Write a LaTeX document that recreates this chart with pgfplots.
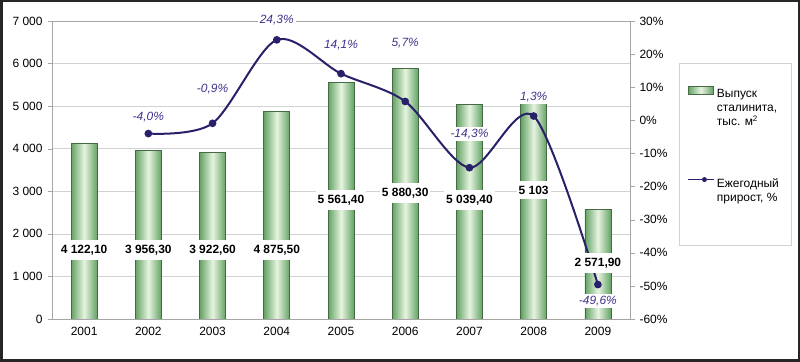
\documentclass[border=0pt]{standalone}
\usepackage{fontspec}
\setmainfont{Liberation Sans}
\usepackage{pgfplots}
\pgfplotsset{compat=1.18}
\definecolor{bargreen}{RGB}{100,162,100}
\definecolor{barlight}{RGB}{230,244,224}
\definecolor{barline}{RGB}{70,105,70}
\definecolor{navy}{RGB}{40,32,105}
\definecolor{pctcol}{RGB}{62,52,140}
\definecolor{axisgray}{RGB}{165,165,165}
\definecolor{gridgray}{RGB}{210,210,210}

\pgfplotsset{
  base/.style={scale only axis, width=578bp, height=298bp, at={(52bp,43bp)}, anchor=south west,
    xmin=0.5, xmax=9.5},
  gbar/.style={ybar, bar width=26bp, bar shift=0pt, draw=barline, line width=0.6bp,
    left color=bargreen, right color=bargreen, middle color=barlight},
}

\begin{document}
\begin{tikzpicture}[font=\fontsize{12}{14}\selectfont]
\useasboundingbox (0,0) rectangle (800bp,362bp);
\draw[line width=2.5bp, black!85] (1.25bp,1.25bp) rectangle (798.75bp,360.75bp);

% bars, left axis
\begin{axis}[base,
  ymin=0, ymax=7000,
  ytick={0,1000,...,7000},
  yticklabels={0,1 000,2 000,3 000,4 000,5 000,6 000,7 000},
  xtick={1,...,9},
  xticklabels={2001,2002,2003,2004,2005,2006,2007,2008,2009},
  minor xtick={1.5,2.5,...,8.5},
  tick pos=left,
  tick align=outside,
  major tick length=4bp, minor tick length=4bp,
  xtick style={draw=none},
  minor tick style={axisgray},
  ytick style={axisgray},
  axis line style={axisgray, line width=0.8bp},
  ymajorgrids, grid style={gridgray, line width=0.6bp},
  yticklabel style={xshift=-2bp},
  xticklabel style={yshift=-1bp},
]
\addplot[gbar] coordinates {(1,4122.10)};
\addplot[gbar] coordinates {(2,3956.30)};
\addplot[gbar] coordinates {(3,3922.60)};
\addplot[gbar] coordinates {(4,4875.50)};
\addplot[gbar] coordinates {(5,5561.40)};
\addplot[gbar] coordinates {(6,5880.30)};
\addplot[gbar] coordinates {(7,5039.40)};
\addplot[gbar] coordinates {(8,5103)};
\addplot[gbar] coordinates {(9,2571.90)};
\end{axis}

% growth line, right axis
\begin{axis}[base, clip=false,
  ymin=-60, ymax=30,
  axis x line=none, axis y line*=right,
  ytick={-60,-50,...,30},
  yticklabels={-60\%,-50\%,-40\%,-30\%,-20\%,-10\%,0\%,10\%,20\%,30\%},
  tick align=outside, major tick length=5bp,
  ytick style={axisgray},
  axis line style={axisgray, line width=0.8bp},
  yticklabel style={xshift=1bp},
  legend style={at={(1.0848,0.859)}, anchor=north west, draw=gray!35, fill=white,
    inner xsep=8bp, inner ysep=23bp, row sep=75bp, font=\fontsize{12}{14}\selectfont},
  legend cell align=left,
]
\addlegendimage{legend image code/.code={\draw[left color=bargreen, right color=bargreen, middle color=barlight, draw=barline, line width=0.6bp] (0bp,0bp) rectangle (25bp,8bp);}}
\addlegendentry{\parbox[t]{64bp}{\raggedright Выпуск\\сталинита,\\тыс. м\textsuperscript{2}}}
\addplot[navy, line width=2bp, smooth, tension=0.5, mark=*, mark size=2.8bp, mark options={fill=navy, solid},
  legend image code/.code={\path (0bp,-38bp) -- (0bp,-38bp); \draw[navy, line width=1.5bp] (0bp,4bp) -- (26bp,4bp) (13bp,4bp) node[circle, fill=navy, inner sep=0pt, minimum size=5bp]{};}]
  coordinates {(2,-4.0) (3,-0.9) (4,24.3) (5,14.1) (6,5.7) (7,-14.3) (8,1.3) (9,-49.6)};
\addlegendentry{\parbox[t]{64bp}{\raggedright Ежегодный\\прирост, \%}}
\end{axis}

% labels on top
\begin{axis}[base, hide axis, clip=false, ymin=0, ymax=7000]
\tikzset{bl/.style={fill=white, font=\fontsize{12}{14}\selectfont\bfseries, inner xsep=2bp, inner ysep=5bp},
         pl/.style={fill=white, text=pctcol, font=\fontsize{12}{14}\selectfont\itshape, inner sep=2bp}}
\node[bl] at (axis cs:1,1621) {4 122,10};
\node[bl] at (axis cs:2,1621) {3 956,30};
\node[bl] at (axis cs:3,1621) {3 922,60};
\node[bl] at (axis cs:4,1621) {4 875,50};
\node[bl] at (axis cs:5,2795) {5 561,40};
\node[bl] at (axis cs:6,2960) {5 880,30};
\node[bl] at (axis cs:7,2795) {5 039,40};
\node[bl] at (axis cs:8,3030) {5 103};
\node[bl] at (axis cs:9,1315) {2 571,90};
% growth labels (converted to left-axis units: v_left = (pct+60)/90*7000)
\node[pl] at (axis cs:2,4745) {-4,0\%};
\node[pl] at (axis cs:3,5402) {-0,9\%};
\node[pl] at (axis cs:4,7023) {24,3\%};
\node[pl] at (axis cs:5,6436) {14,1\%};
\node[pl] at (axis cs:6,6483) {5,7\%};
\node[pl] at (axis cs:7,4345) {-14,3\%};
\node[pl] at (axis cs:8,5215) {1,3\%};
\node[pl] at (axis cs:9,423) {-49,6\%};
\end{axis}
\end{tikzpicture}
\end{document}
